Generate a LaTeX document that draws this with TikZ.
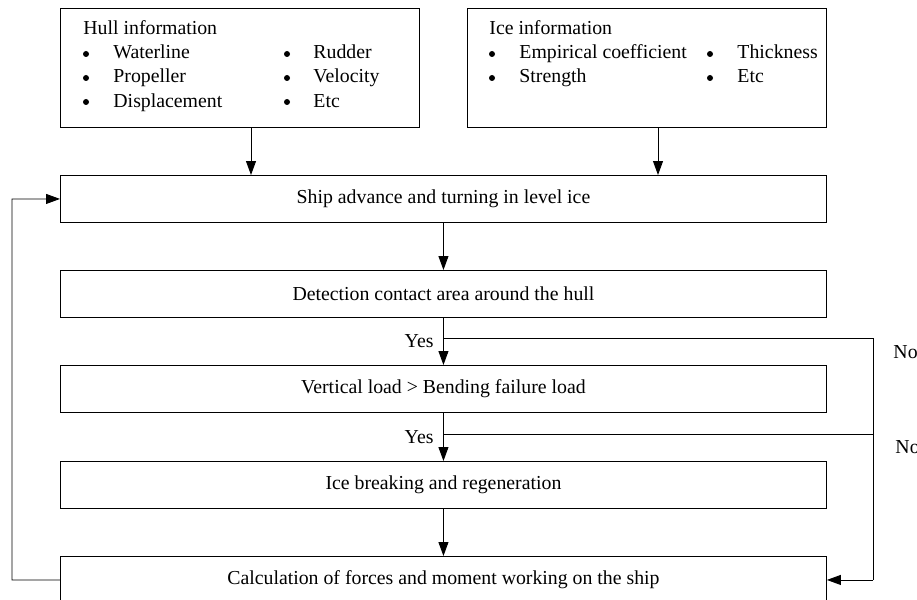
\documentclass[tikz,border=0pt]{standalone}
\usepackage{fontspec}
\setmainfont{Liberation Serif}
\usetikzlibrary{arrows.meta}

\begin{document}
\begin{tikzpicture}[x=1pt,y=-1pt,font=\fontsize{19.8}{23}\selectfont,line width=0.9pt,
    >={Triangle[length=14pt,width=10pt]}]
    \tikzstyle{infobox}=[draw,minimum width=359pt,minimum height=119pt,anchor=north west,inner sep=0pt]
    \tikzstyle{stepbox}=[draw,minimum width=766pt,minimum height=47pt,anchor=north west,inner sep=0pt]
    \tikzstyle{txt}=[anchor=base west,inner sep=0pt]
    \tikzstyle{dot}=[circle,fill,inner sep=0pt,minimum size=6pt]
    \useasboundingbox (0,0) rectangle (917,599);
    % input boxes
    \node[infobox] (hull) at (60,8) {};
    \node[infobox] (ice) at (467,8) {};
    \node[txt] (hullhead) at (83,35) {Hull information};
    \node[dot] (hullb1) at (86,54) {};
    \node[txt] (hullt1) at (113,59) {Waterline};
    \node[dot] (hullb2) at (86,78) {};
    \node[txt] (hullt2) at (113,83) {Propeller};
    \node[dot] (hullb3) at (86,102) {};
    \node[txt] (hullt3) at (113,107) {Displacement};
    \node[dot] (hullb4) at (287,54) {};
    \node[txt] (hullt4) at (313,59) {Rudder};
    \node[dot] (hullb5) at (287,78) {};
    \node[txt] (hullt5) at (313,83) {Velocity};
    \node[dot] (hullb6) at (287,102) {};
    \node[txt] (hullt6) at (313,107) {Etc};
    \node[txt] (icehead) at (489,35) {Ice information};
    \node[dot] (iceb1) at (492,54) {};
    \node[txt] (icet1) at (519,59) {Empirical coefficient};
    \node[dot] (iceb2) at (492,78) {};
    \node[txt] (icet2) at (519,83) {Strength};
    \node[dot] (iceb3) at (710,54) {};
    \node[txt] (icet3) at (737,59) {Thickness};
    \node[dot] (iceb4) at (710,78) {};
    \node[txt] (icet4) at (737,83) {Etc};
    % process steps
    \node[stepbox] (advance) at (60,175) {Ship advance and turning in level ice};
    \node[stepbox] (detect) at (60,270) {Detection contact area around the hull};
    \node[stepbox] (vload) at (60,365) {Vertical load > Bending failure load};
    \node[stepbox] (breaking) at (60,461) {Ice breaking and regeneration};
    \node[stepbox] (calc) at (60,556) {Calculation of forces and moment working on the ship};
    % branch points
    \coordinate (hullout) at (251,127);
    \coordinate (iceout) at (658,127);
    \coordinate (yes1) at (443,338);
    \coordinate (yes2) at (443,434);
    \coordinate (no1) at (873,338);
    \coordinate (no2) at (873,434);
    \coordinate (back) at (12,580);
    \draw[->] (hullout) -- (hullout |- advance.north);
    \draw[->] (iceout) -- (iceout |- advance.north);
    \draw[->] (advance) -- (detect);
    \draw[->] (detect) -- (vload);
    \draw[->] (vload) -- (breaking);
    \draw[->] (breaking) -- (calc);
    \draw (yes1) -- (no1) -- (no1 |- calc.east);
    \draw[->] (no1 |- calc.east) -- (calc.east);
    \draw (yes2) -- (no2);
    \draw[->] (calc.west) -- (back) -- (back |- advance.west) -- (advance.west);
    % labels
    \node[anchor=east,inner sep=0pt] (yeslab1) at (434,341) {Yes};
    \node[anchor=east,inner sep=0pt] (yeslab2) at (434,437) {Yes};
    \node[anchor=west,inner sep=0pt] (nolab1) at (893,352) {No};
    \node[anchor=west,inner sep=0pt] (nolab2) at (895,447) {No};
\end{tikzpicture}
\end{document}
